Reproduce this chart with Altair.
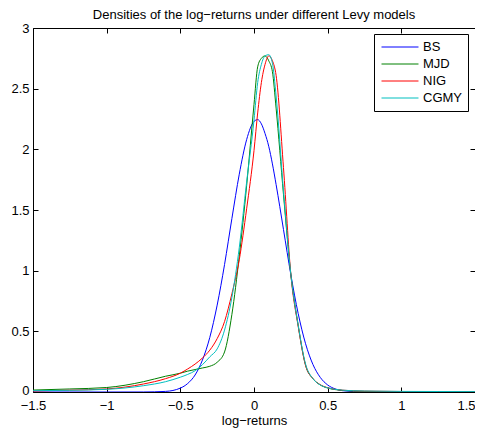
import altair as alt
import pandas as pd

# ---- data ----
x_vals = [-1.5, -1.25, -1.0, -0.75, -0.6, -0.5, -0.45, -0.4, -0.35, -0.3, -0.25, -0.2,
          -0.15, -0.1, -0.05, 0.0, 0.025, 0.05, 0.075, 0.1, 0.125, 0.15, 0.2, 0.25,
          0.3, 0.35, 0.4, 0.45, 0.5, 0.55, 0.6, 0.75, 1.0, 1.25, 1.5]

bs = [0.0, 0.0, 0.0, 0.0002, 0.005, 0.032, 0.07, 0.14, 0.263, 0.45, 0.716, 1.05,
      1.43, 1.795, 2.08, 2.23, 2.245, 2.21, 2.13, 2.025, 1.88, 1.71, 1.34, 0.967,
      0.646, 0.398, 0.227, 0.12, 0.058, 0.026, 0.011, 0.0005, 0.0, 0.0, 0.0]

mjd = [0.016, 0.025, 0.037, 0.085, 0.13, 0.155, 0.172, 0.185, 0.198, 0.212, 0.245, 0.33,
       0.64, 1.12, 1.70, 2.37, 2.68, 2.75, 2.77, 2.73, 2.64, 2.34, 1.63, 0.97,
       0.55, 0.22, 0.11, 0.058, 0.033, 0.02, 0.013, 0.005, 0.002, 0.001, 0.001]

nig = [0.008, 0.015, 0.025, 0.066, 0.11, 0.155, 0.19, 0.23, 0.28, 0.345, 0.44, 0.58,
       0.81, 1.09, 1.51, 1.99, 2.3, 2.55, 2.7, 2.77, 2.73, 2.61, 1.85, 0.97,
       0.54, 0.22, 0.11, 0.06, 0.035, 0.022, 0.015, 0.007, 0.004, 0.003, 0.002]

cgmy = [0.011, 0.014, 0.022, 0.052, 0.085, 0.122, 0.145, 0.175, 0.225, 0.29, 0.355, 0.51,
        0.78, 1.19, 1.73, 2.24, 2.55, 2.7, 2.77, 2.78, 2.71, 2.44, 1.66, 0.97,
        0.55, 0.23, 0.11, 0.058, 0.034, 0.022, 0.015, 0.008, 0.005, 0.004, 0.003]

models = ["BS", "MJD", "NIG", "CGMY"]
colors = ["#0000ff", "#008000", "#ff0000", "#00bfbf"]
x_ticks = [-1.5, -1, -0.5, 0, 0.5, 1, 1.5]
y_ticks = [0, 0.5, 1, 1.5, 2, 2.5, 3]

rows = []
for k, (name, ys) in enumerate(zip(models, [bs, mjd, nig, cgmy])):
    for x, y in zip(x_vals, ys):
        rows.append({"model": name, "x": x, "density": y, "k": k})
df = pd.DataFrame(rows)
ticks_df = pd.DataFrame({"tx": x_ticks, "ty": y_ticks})

FONT = "Liberation Sans"
xscale = alt.Scale(domain=[-1.5, 1.5], nice=False, zero=False)
yscale = alt.Scale(domain=[0, 3], nice=False, zero=False)
lbl = "replace(format(datum.value, '~g'), '-', '\u2212')"

lines = alt.Chart(df).mark_line(strokeWidth=1, interpolate="monotone", clip=True).encode(
    x=alt.X("x:Q", scale=xscale,
            axis=alt.Axis(values=x_ticks, title="log\u2212returns", orient="bottom",
                          offset=-5, tickSize=5, domain=False, grid=False,
                          labelPadding=7, labelExpr=lbl, titlePadding=2,
                          labelAlign={"condition": {"test": "datum.value >= 1.5", "value": "right"},
                                      "value": "center"})),
    y=alt.Y("density:Q", scale=yscale,
            axis=alt.Axis(values=y_ticks, title=None, orient="left",
                          offset=-5, tickSize=5, domain=False, grid=False,
                          labelPadding=4, labelExpr=lbl,
                          labelOffset={"condition": {"test": "datum.value == 0", "value": -2},
                                       "value": 0})),
    color=alt.Color("model:N", scale=alt.Scale(domain=models, range=colors),
                    legend=alt.Legend(title=None, orient="none", legendX=341, legendY=6,
                                      symbolType="M-3,0H3", symbolSize=152,
                                      symbolStrokeWidth=1, symbolOffset=13,
                                      labelFontSize=13, labelFont=FONT, labelColor="black",
                                      labelOffset=16, padding=6,
                                      strokeColor="black", fillColor="white",
                                      cornerRadius=0, rowPadding=3)),
    order=alt.Order("k:Q"),
    detail="model:N",
)

frame = alt.Chart(ticks_df).mark_point(opacity=0).encode(
    x=alt.X("tx:Q", scale=xscale,
            axis=alt.Axis(values=x_ticks, orient="top", offset=-5, tickSize=5,
                          domain=False, grid=False, labels=False, title=None)),
    y=alt.Y("ty:Q", scale=yscale,
            axis=alt.Axis(values=y_ticks, orient="right", offset=-5, tickSize=5,
                          domain=False, grid=False, labels=False, title=None)),
)

chart = alt.layer(lines, frame).resolve_axis(x="independent", y="independent").properties(
    width=442, height=364,
    padding={"left": 25, "top": 20, "right": 0, "bottom": 37},
    autosize=alt.AutoSizeParams(type="none"),
    title=alt.TitleParams("Densities of the log\u2212returns under different Levy models",
                          fontSize=13, font=FONT, fontWeight="normal", anchor="middle",
                          frame="group", offset=0, color="black"),
).configure_view(stroke="black", strokeWidth=1).configure_axis(
    labelFont=FONT, labelFontSize=13, labelColor="black", tickColor="black",
    titleFont=FONT, titleFontSize=13, titleFontWeight="normal", titleColor="black",
)

chart.save("out.html", embed_options={"renderer": "svg", "actions": False})
